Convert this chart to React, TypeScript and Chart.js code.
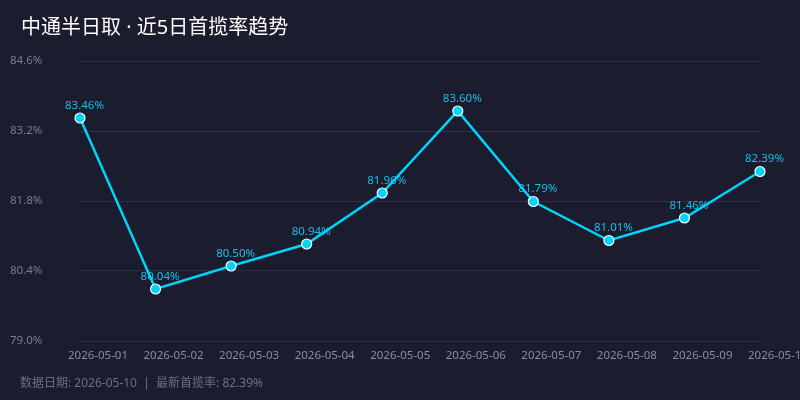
import React, { useEffect, useRef } from "react";
import { Chart, registerables } from "chart.js";

Chart.register(...registerables);

const TITLE = "中通半日取 · 近5日首揽率趋势";
const FOOTER = "数据日期: 2026-05-10  |  最新首揽率: 82.39%";
const dates = [
  "2026-05-01", "2026-05-02", "2026-05-03", "2026-05-04", "2026-05-05",
  "2026-05-06", "2026-05-07", "2026-05-08", "2026-05-09", "2026-05-10",
];
const rates = [83.46, 80.04, 80.5, 80.94, 81.96, 83.6, 81.79, 81.01, 81.46, 82.39];
const yMin = 79.0;
const yMax = 84.6;
const yStep = 1.4;

const FONT = '"Noto Sans", "Noto Sans CJK SC", sans-serif';
const BG = "#1b1c2e";
const CYAN = "#00d4fa";

const valueLabels = {
  id: "valueLabels",
  beforeDatasetsDraw(chart: any) {
    const ctx = chart.ctx;
    const meta = chart.getDatasetMeta(0);
    ctx.save();
    ctx.font = `11.5px ${FONT}`;
    ctx.fillStyle = "#1bbde8";
    ctx.textAlign = "center";
    ctx.textBaseline = "alphabetic";
    meta.data.forEach((pt: any, i: number) => {
      ctx.fillText(rates[i].toFixed(2) + "%", pt.x + 4.5, pt.y - 9.5);
    });
    ctx.restore();
  },
};

export default function App() {
  const ref = useRef<HTMLCanvasElement>(null);
  useEffect(() => {
    const chart = new Chart(ref.current!, {
      type: "line",
      data: {
        labels: dates,
        datasets: [
          {
            data: rates,
            borderColor: CYAN,
            backgroundColor: CYAN,
            borderWidth: 2.5,
            pointRadius: 5,
            pointBackgroundColor: CYAN,
            pointBorderColor: "#ffffff",
            pointBorderWidth: 1.2,
            tension: 0,
          },
        ],
      },
      options: {
        animation: false,
        responsive: false,
        layout: { padding: { left: 10, right: 40, top: 61, bottom: 29 } },
        plugins: {
          legend: { display: false },
          tooltip: { enabled: false },
        },
        scales: {
          x: {
            grid: { display: false, drawTicks: false },
            border: { display: false },
            ticks: {
              color: "#8b8ba3",
              font: { family: FONT, size: 11.5 },
              padding: 8,
              labelOffset: 18,
              maxRotation: 0,
              autoSkip: false,
            },
            afterFit: (s: any) => {
              s.height = 30;
            },
          },
          y: {
            min: yMin,
            max: yMax,
            grid: { color: "#2e2f4e", drawTicks: false, lineWidth: 1 },
            border: { display: false },
            ticks: {
              stepSize: yStep,
              color: "#7b7b96",
              font: { family: FONT, size: 11.5 },
              crossAlign: "far",
              callback: (v: any) => Number(v).toFixed(1) + "%",
            },
            afterFit: (s: any) => {
              s.width = 70;
            },
          },
        },
      },
      plugins: [valueLabels],
    });
    return () => chart.destroy();
  }, []);

  return (
    <div
      style={{
        position: "fixed",
        left: 0,
        top: 0,
        width: 800,
        height: 400,
        background: BG,
        overflow: "hidden",
        fontFamily: FONT,
      }}
    >
      <canvas ref={ref} width={800} height={400} style={{ position: "absolute", left: 0, top: 0 }} />
      <div
        style={{
          position: "absolute",
          left: 21,
          top: 15,
          fontSize: 20,
          lineHeight: "24px",
          color: "#ffffff",
          whiteSpace: "pre",
        }}
      >
        {TITLE}
      </div>
      <div
        style={{
          position: "absolute",
          left: 20,
          top: 375,
          fontSize: 12,
          lineHeight: "16px",
          color: "#6d6d88",
          whiteSpace: "pre",
        }}
      >
        {FOOTER}
      </div>
    </div>
  );
}
